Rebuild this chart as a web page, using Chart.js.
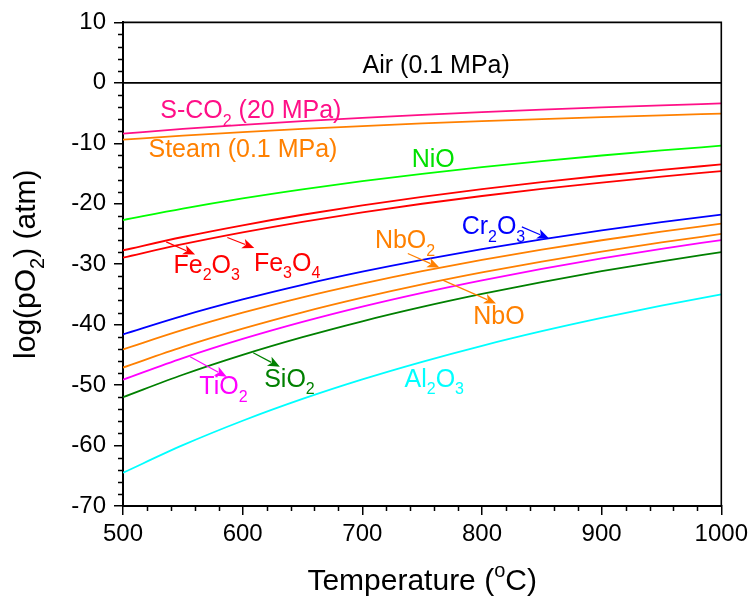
<!DOCTYPE html>
<html><head><meta charset="utf-8">
<script src="https://cdn.jsdelivr.net/npm/chart.js@4"></script>
<style>html,body{margin:0;padding:0;background:#fff}#wrap{width:753px;height:599px;position:relative}</style>
</head><body><div id="wrap"><canvas id="c" width="753" height="599"></canvas></div>
<script>
const temperatureC = [500,550,600,650,700,750,800,850,900,950,1000];
const airLog   = [0,0,0,0,0,0,0,0,0,0,0];
const sco2Log  = [-8.40,-7.63,-6.94,-6.33,-5.78,-5.29,-4.84,-4.43,-4.06,-3.72,-3.40];
const steamLog = [-9.40,-8.73,-8.15,-7.62,-7.15,-6.72,-6.34,-5.99,-5.67,-5.37,-5.10];
const nioLog   = [-22.70,-20.80,-19.11,-17.61,-16.26,-15.05,-13.94,-12.94,-12.02,-11.18,-10.40];
const fe2o3Log = [-27.70,-25.50,-23.56,-21.82,-20.27,-18.87,-17.59,-16.43,-15.37,-14.40,-13.50];
const fe3o4Log = [-28.90,-26.69,-24.73,-22.98,-21.42,-20.00,-18.72,-17.55,-16.49,-15.50,-14.60];
const cr2o3Log = [-41.60,-38.54,-35.83,-33.41,-31.24,-29.28,-27.51,-25.89,-24.41,-23.05,-21.80];
const nbo2Log  = [-44.10,-40.88,-38.03,-35.49,-33.22,-31.16,-29.29,-27.60,-26.04,-24.62,-23.30];
const nboLog   = [-47.10,-43.68,-40.66,-37.96,-35.54,-33.35,-31.37,-29.56,-27.91,-26.40,-25.00];
const tio2Log  = [-49.10,-45.53,-42.36,-39.54,-37.01,-34.73,-32.66,-30.77,-29.05,-27.46,-26.00];
const sio2Log  = [-52.00,-48.29,-45.00,-42.07,-39.44,-37.07,-34.92,-32.96,-31.16,-29.52,-28.00];
const al2o3Log = [-64.50,-59.94,-55.90,-52.29,-49.06,-46.15,-43.50,-41.09,-38.89,-36.87,-35.00];
const xTickValues = [500,600,700,800,900,1000];
const yTickValues = [10,0,-10,-20,-30,-40,-50,-60,-70];

const FAM = "'Liberation Sans', Arial, Helvetica, sans-serif";
Chart.defaults.font.family = FAM;
Chart.defaults.color = '#000';

const seriesDefs = [
  ['Air (0.1 MPa)', airLog, '#000000'],
  ['S-CO2 (20 MPa)', sco2Log, '#FF0F87'],
  ['Steam (0.1 MPa)', steamLog, '#FF8000'],
  ['NiO', nioLog, '#00FF00'],
  ['Fe2O3', fe2o3Log, '#FF0000'],
  ['Fe3O4', fe3o4Log, '#FF0000'],
  ['Cr2O3', cr2o3Log, '#0000FF'],
  ['NbO2', nbo2Log, '#FF8000'],
  ['NbO', nboLog, '#FF8000'],
  ['TiO2', tio2Log, '#FF00FF'],
  ['SiO2', sio2Log, '#008000'],
  ['Al2O3', al2o3Log, '#00FFFF']
];

// annotation labels: [parts, T, logpO2 (data coords), color]
const labelSpecs = [
  [[['Air (0.1 MPa)',0]], 700.2, 1.57, '#000000'],
  [[['S-CO',0],['2',-1],[' (20 MPa)',0]], 531.1, -5.87, '#FF0F87'],
  [[['Steam (0.1 MPa)',0]], 521.3, -12.26, '#FF8000'],
  [[['NiO',0]], 741.3, -13.92, '#00E000'],
  [[['Fe',0],['2',-1],['O',0],['3',-1]], 542.2, -31.44, '#FF0000'],
  [[['Fe',0],['3',-1],['O',0],['4',-1]], 609.4, -31.11, '#FF0000'],
  [[['Cr',0],['2',-1],['O',0],['3',-1]], 783.0, -25.04, '#0000FF'],
  [[['NbO',0],['2',-1]], 710.5, -27.40, '#FF8000'],
  [[['NbO',0]], 792.75, -39.92, '#FF8000'],
  [[['TiO',0],['2',-1]], 563.8, -51.49, '#FF00FF'],
  [[['SiO',0],['2',-1]], 618.0, -50.28, '#008000'],
  [[['Al',0],['2',-1],['O',0],['3',-1]], 735.25, -50.28, '#00FFFF']
];
// arrows: [T1, v1, T2, v2, color] (tail on curve, head at label)
const arrowSpecs = [
  [536.1, -26.31, 560.25, -28.40, '#FF0000'],
  [587.2, -25.59, 609.7, -27.31, '#FF0000'],
  [833.3, -23.83, 856.1, -25.75, '#0000FF'],
  [738.0, -28.23, 764.4, -30.55, '#FF8000'],
  [767.2, -32.64, 811.7, -36.50, '#FF8000'],
  [556.1, -45.32, 586.7, -48.63, '#FF00FF'],
  [608.8, -44.66, 631.1, -46.98, '#008000']
];

function drawRich(ctx, parts, x, y, size, color, align) {
  const small = Math.round(size * 0.65);
  let w = 0;
  const ws = parts.map(([t, m]) => { ctx.font = (m ? small : size) + 'px ' + FAM; const tw = ctx.measureText(t).width; w += tw; return tw; });
  let cx = align === 'center' ? x - w / 2 : x;
  ctx.fillStyle = color; ctx.textAlign = 'left'; ctx.textBaseline = 'alphabetic';
  parts.forEach(([t, m], i) => {
    ctx.font = (m ? small : size) + 'px ' + FAM;
    const dy = m === -1 ? size * 0.3 : (m === 1 ? -size * 0.42 : 0);
    ctx.fillText(t, cx, y + dy);
    cx += ws[i];
  });
}

const decor = {
  id: 'decor',
  afterDraw(chart) {
    const ctx = chart.ctx, a = chart.chartArea;
    const xs = chart.scales.x, ys = chart.scales.y;
    ctx.save();
    // frame top and right
    ctx.strokeStyle = '#000'; ctx.lineWidth = 1.6;
    ctx.beginPath();
    ctx.moveTo(a.left, a.top); ctx.lineTo(a.right, a.top); ctx.lineTo(a.right, a.bottom);
    ctx.stroke();
    // minor ticks
    ctx.lineWidth = 1.5;
    ctx.beginPath();
    for (let t = xs.min; t <= xs.max; t += 20) {
      if (t % 100 === 0) continue;
      const px = Math.round(xs.getPixelForValue(t)) + 0.5;
      ctx.moveTo(px, a.bottom); ctx.lineTo(px, a.bottom + 5);
    }
    for (let v = ys.min; v <= ys.max; v += 2) {
      if (v % 10 === 0) continue;
      const py = Math.round(ys.getPixelForValue(v)) + 0.5;
      ctx.moveTo(a.left, py); ctx.lineTo(a.left - 5, py);
    }
    ctx.stroke();
    // arrows
    arrowSpecs.forEach(([t1, v1, t2, v2, col]) => {
      const x1 = xs.getPixelForValue(t1), y1 = ys.getPixelForValue(v1);
      const x2 = xs.getPixelForValue(t2), y2 = ys.getPixelForValue(v2);
      const ang = Math.atan2(y2 - y1, x2 - x1);
      const L = 12, W = 5;
      ctx.strokeStyle = col; ctx.fillStyle = col; ctx.lineWidth = 1.2;
      ctx.beginPath(); ctx.moveTo(x1, y1);
      ctx.lineTo(x2 - L * 0.8 * Math.cos(ang), y2 - L * 0.8 * Math.sin(ang)); ctx.stroke();
      ctx.beginPath();
      ctx.moveTo(x2, y2);
      ctx.lineTo(x2 - L * Math.cos(ang) + W * Math.sin(ang), y2 - L * Math.sin(ang) - W * Math.cos(ang));
      ctx.lineTo(x2 - L * 0.75 * Math.cos(ang), y2 - L * 0.75 * Math.sin(ang));
      ctx.lineTo(x2 - L * Math.cos(ang) - W * Math.sin(ang), y2 - L * Math.sin(ang) + W * Math.cos(ang));
      ctx.closePath(); ctx.fill();
    });
    // labels
    labelSpecs.forEach(([parts, t, v, col]) => {
      drawRich(ctx, parts, xs.getPixelForValue(t), ys.getPixelForValue(v), 25, col, 'left');
    });
    // axis titles
    drawRich(ctx, [['Temperature (',0],['o',1],['C)',0]], (a.left + a.right) / 2, 590, 30, '#000', 'center');
    ctx.translate(35, (a.top + a.bottom) / 2);
    ctx.rotate(-Math.PI / 2);
    drawRich(ctx, [['log(pO',0],['2',-1],[') (atm)',0]], 0, 0, 30, '#000', 'center');
    ctx.restore();
  }
};

new Chart(document.getElementById('c'), {
  type: 'line',
  data: {
    datasets: seriesDefs.map(([name, vals, col]) => ({
      label: name,
      data: temperatureC.map((t, i) => ({ x: t, y: vals[i] })),
      borderColor: col,
      backgroundColor: col,
      borderWidth: name.startsWith('Air') ? 1.6 : 1.8,
      pointRadius: 0,
      fill: false,
      cubicInterpolationMode: 'monotone'
    }))
  },
  options: {
    responsive: false,
    animation: false,
    devicePixelRatio: 1,
    layout: { padding: { top: 22, right: 30, left: 0, bottom: 0 } },
    plugins: { legend: { display: false }, tooltip: { enabled: false } },
    scales: {
      x: {
        type: 'linear', min: 500, max: 1000,
        afterBuildTicks: s => { s.ticks = xTickValues.map(v => ({ value: v })); },
        afterFit: s => { s.height = 93; },
        ticks: { font: { size: 24 }, color: '#000', padding: 5, maxRotation: 0, callback: v => String(v) },
        grid: { display: true, drawOnChartArea: false, drawTicks: true, tickLength: 9, color: '#000', lineWidth: 1.5 },
        border: { display: true, color: '#000', width: 2 }
      },
      y: {
        type: 'linear', min: -70, max: 10,
        afterBuildTicks: s => { s.ticks = yTickValues.map(v => ({ value: v })); },
        afterFit: s => { s.width = 123; },
        ticks: { font: { size: 24 }, color: '#000', padding: 8, callback: v => String(v) },
        grid: { display: true, drawOnChartArea: false, drawTicks: true, tickLength: 9, color: '#000', lineWidth: 1.5 },
        border: { display: true, color: '#000', width: 2 }
      }
    }
  },
  plugins: [decor]
});
</script></body></html>
